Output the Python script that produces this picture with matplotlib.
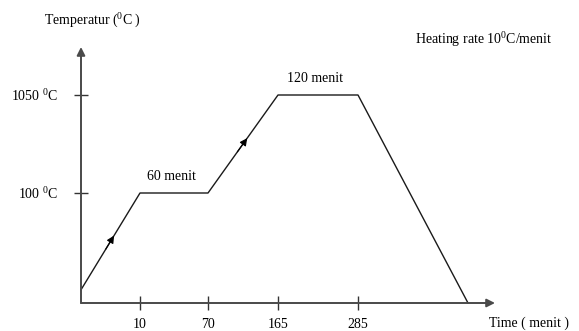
import numpy as np
import matplotlib
matplotlib.use("Agg")
import matplotlib.pyplot as plt
from matplotlib.scale import FuncScale

plt.rcParams['font.family'] = ['Liberation Serif', 'DejaVu Serif']
plt.rcParams['mathtext.fontset'] = 'custom'
plt.rcParams['mathtext.rm'] = 'Liberation Serif'
plt.rcParams['mathtext.it'] = 'Liberation Serif:italic'

# 热处理曲线数据 (时间: 分钟, 温度: °C)
profile_time = [0, 10, 70, 165, 285, 390]
profile_temp = [12, 100, 100, 1050, 1050, 0]
time_ticks = [10, 70, 165, 285]
time_tick_labels = ['10', '70', '165', '285']
temp_ticks = [100, 1050]
temp_tick_labels = ['100 $^0$C', '1050 $^0$C']
hold_labels = ['60 menit', '120 menit']   # 两段保温
hold_segments = [1, 3]                    # 保温段起点索引
ramp_segments = [0, 2]                    # 升温段起点索引

# 示意图坐标轴 (非线性): 分段映射到绘图长度
x_knots = [0, 10, 70, 165, 285, 390, 440]
x_draw = [0, 59, 127, 197, 277, 387, 414]
y_knots = [0, 100, 1050, 1400]
y_draw = [0, 110, 208, 256]

FS = 10

fig = plt.figure(figsize=(5.79, 3.31), dpi=100)
ax = fig.add_axes([81 / 579, 28 / 331, 414 / 579, 256 / 331])

ax.set_xscale(FuncScale(ax.xaxis, (lambda t: np.interp(t, x_knots, x_draw),
                                   lambda p: np.interp(p, x_draw, x_knots))))
ax.set_yscale(FuncScale(ax.yaxis, (lambda t: np.interp(t, y_knots, y_draw),
                                   lambda p: np.interp(p, y_draw, y_knots))))
ax.set_xlim(0, x_knots[-1])
ax.set_ylim(0, y_knots[-1])

ax.plot(profile_time, profile_temp, color='#1a1a1a', lw=1.0, clip_on=False)

# 升温段中间的箭头
for i in ramp_segments:
    t0, t1 = profile_time[i], profile_time[i + 1]
    T0, T1 = profile_temp[i], profile_temp[i + 1]
    a, b = 0.42, 0.56
    ax.annotate('', xy=(t0 + b * (t1 - t0), T0 + b * (T1 - T0)),
                xytext=(t0 + a * (t1 - t0), T0 + a * (T1 - T0)),
                arrowprops=dict(arrowstyle='-|>', color='black', lw=0.8,
                                mutation_scale=11, shrinkA=0, shrinkB=0))

# 保温段标签
for i, lab in zip(hold_segments, hold_labels):
    tm = (profile_time[i] + profile_time[i + 1]) / 2
    ax.annotate(lab, xy=(tm, profile_temp[i]), xytext=(-2, 12),
                textcoords='offset points', ha='center', va='center', fontsize=FS)

# 坐标轴 (带箭头)
for s in ax.spines.values():
    s.set_visible(False)
arrow_kw = dict(arrowstyle='-|>', color='#4a4a4a', lw=1.4, mutation_scale=12,
                shrinkA=0, shrinkB=0)
ax.annotate('', xy=(1, 0), xytext=(0, 0), xycoords='axes fraction',
            arrowprops=arrow_kw, annotation_clip=False)
ax.annotate('', xy=(0, 1), xytext=(0, 0), xycoords='axes fraction',
            arrowprops=arrow_kw, annotation_clip=False)

ax.set_xticks(time_ticks, time_tick_labels)
ax.set_yticks(temp_ticks, temp_tick_labels)
ax.tick_params(axis='x', direction='inout', length=10, width=1.0,
               color='#333333', pad=6, labelsize=FS)
ax.tick_params(axis='y', direction='inout', length=9.5, width=1.0,
               color='#333333', pad=12, labelsize=FS)
ax.set_facecolor('none')

fig.text(92 / 579, 1 - 21 / 331, 'Temperatur ($^0$C )', ha='center', va='center', fontsize=FS)
fig.text(415 / 579, 1 - 40 / 331, 'Heating rate 10$^0$C/menit', ha='left', va='center', fontsize=FS)
fig.text(489 / 579, 1 - 323 / 331, 'Time ( menit )', ha='left', va='center', fontsize=FS)

plt.savefig('out.png', dpi=100)
